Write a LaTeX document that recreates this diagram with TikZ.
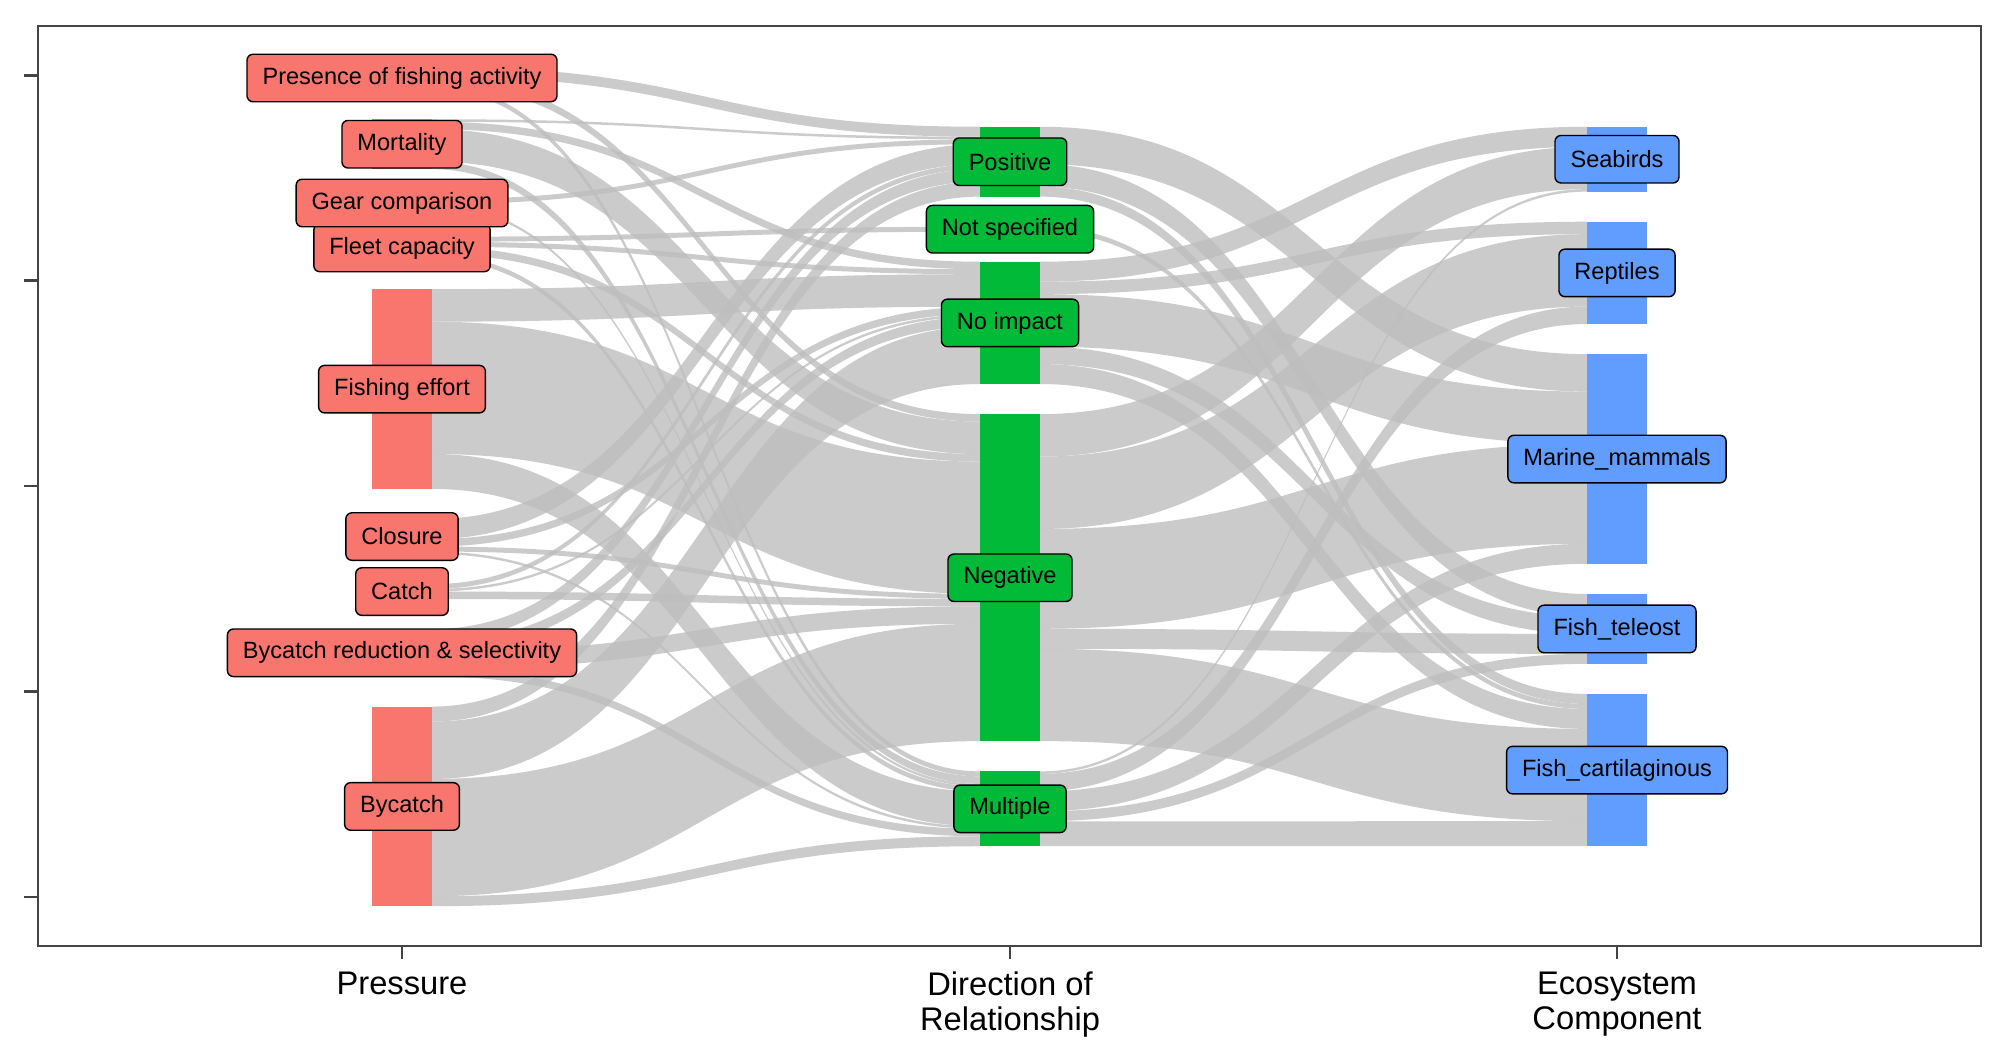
\documentclass[tikz,border=0pt]{standalone}
\usepackage{fontspec}
\setmainfont{Liberation Sans}
\usetikzlibrary{positioning,calc,backgrounds}
\definecolor{pcol}{HTML}{F8766D}
\definecolor{dcol}{HTML}{00BA38}
\definecolor{ecol}{HTML}{619CFF}
\definecolor{flowc}{HTML}{BEBEBE}
\definecolor{axisc}{HTML}{444444}
\def\lodeu{2.496}
\def\lodeh{0.02496cm}
\newcommand{\ribbon}[5]{%
  \path ($(#1.north east)+(0,{#2*\lodeu})$) coordinate (r1)
        ($(#1.north east)+(0,{(#2+#5)*\lodeu})$) coordinate (r2)
        ($(#3.north west)+(0,{#4*\lodeu})$) coordinate (r3)
        ($(#3.north west)+(0,{(#4+#5)*\lodeu})$) coordinate (r4)
        ($(r1)!.5!(r3)$) coordinate (rm);
  \fill[flowband] (r1) .. controls (r1 -| rm) and (r3 -| rm) .. (r3)
    -- (r4) .. controls (r4 -| rm) and (r2 -| rm) .. (r2) -- cycle;}
\begin{document}
\begin{tikzpicture}[x=0.01cm,y=-0.01cm,
    flowband/.style={fill=flowc,fill opacity=0.8},
    strat/.style={rectangle,inner sep=0pt,outer sep=0pt,minimum width=0.6cm},
    tag/.style={draw=black,line width=0.4pt,rounded corners=0.6mm,minimum height=0.475cm,
      inner xsep=0.155cm,inner ysep=0pt,font=\fontsize{6.7pt}{8pt}\selectfont}]

      \useasboundingbox (0,0) rectangle (2007,1062);

      \begin{scope}[every node/.style={strat,fill=pcol}]
        \node[minimum height={9*\lodeh},anchor=north] (pres) at (402,66.73) {};
        \node[minimum height={20*\lodeh},below=0.3cm of pres] (mort) {};
        \node[minimum height={3*\lodeh},below=0.3cm of mort] (gear) {};
        \node[minimum height={9*\lodeh},below=0.3cm of gear] (fleet) {};
        \node[minimum height={80*\lodeh},below=0.3cm of fleet] (effort) {};
        \node[minimum height={14*\lodeh},below=0.3cm of effort] (closure) {};
        \node[minimum height={6*\lodeh},below=0.3cm of closure] (catch) {};
        \node[minimum height={19*\lodeh},below=0.3cm of catch] (reduction) {};
        \node[minimum height={80*\lodeh},below=0.3cm of reduction] (bycatch) {};
      \end{scope}

      \begin{scope}[every node/.style={strat,fill=dcol}]
        \node[minimum height={28*\lodeh},anchor=north] (pos) at (1010,126.73) {};
        \node[minimum height={2*\lodeh},below=0.3cm of pos] (ns) {};
        \node[minimum height={49*\lodeh},below=0.3cm of ns] (noimp) {};
        \node[minimum height={131*\lodeh},below=0.3cm of noimp] (neg) {};
        \node[minimum height={30*\lodeh},below=0.3cm of neg] (mult) {};
      \end{scope}

      \begin{scope}[every node/.style={strat,fill=ecol}]
        \node[minimum height={26*\lodeh},anchor=north] (sea) at (1617,126.73) {};
        \node[minimum height={41*\lodeh},below=0.3cm of sea] (rep) {};
        \node[minimum height={84*\lodeh},below=0.3cm of rep] (mar) {};
        \node[minimum height={28*\lodeh},below=0.3cm of mar] (tel) {};
        \node[minimum height={61*\lodeh},below=0.3cm of tel] (cart) {};
      \end{scope}

      \begin{scope}[on background layer]
        \fill[white] (0,0) rectangle (2007,1062);
        \ribbon{pres}{0}{pos}{0}{4}
        \ribbon{pres}{4}{neg}{0}{3}
        \ribbon{pres}{7}{mult}{0}{2}
        \ribbon{mort}{0}{pos}{4}{1}
        \ribbon{mort}{1}{noimp}{0}{3}
        \ribbon{mort}{4}{neg}{3}{13}
        \ribbon{mort}{17}{mult}{2}{3}
        \ribbon{gear}{0}{pos}{5}{2}
        \ribbon{gear}{2}{mult}{5}{1}
        \ribbon{fleet}{0}{ns}{0}{2}
        \ribbon{fleet}{2}{noimp}{3}{2}
        \ribbon{fleet}{4}{neg}{16}{3}
        \ribbon{fleet}{7}{mult}{6}{2}
        \ribbon{effort}{0}{noimp}{5}{13}
        \ribbon{effort}{13}{neg}{19}{53}
        \ribbon{effort}{66}{mult}{8}{14}
        \ribbon{closure}{0}{pos}{7}{8}
        \ribbon{closure}{8}{noimp}{18}{3}
        \ribbon{closure}{11}{neg}{72}{2}
        \ribbon{closure}{13}{mult}{22}{1}
        \ribbon{catch}{0}{pos}{15}{2}
        \ribbon{catch}{2}{noimp}{21}{1}
        \ribbon{catch}{3}{neg}{74}{3}
        \ribbon{reduction}{0}{pos}{17}{5}
        \ribbon{reduction}{5}{noimp}{22}{4}
        \ribbon{reduction}{9}{neg}{77}{7}
        \ribbon{reduction}{16}{mult}{23}{3}
        \ribbon{bycatch}{0}{pos}{22}{6}
        \ribbon{bycatch}{6}{noimp}{26}{23}
        \ribbon{bycatch}{29}{neg}{84}{47}
        \ribbon{bycatch}{76}{mult}{26}{4}
        \ribbon{pos}{0}{mar}{0}{15}
        \ribbon{pos}{15}{tel}{0}{9}
        \ribbon{pos}{24}{cart}{0}{4}
        \ribbon{ns}{0}{cart}{4}{2}
        \ribbon{noimp}{0}{sea}{0}{8}
        \ribbon{noimp}{8}{rep}{0}{5}
        \ribbon{noimp}{13}{mar}{15}{21}
        \ribbon{noimp}{34}{tel}{9}{7}
        \ribbon{noimp}{41}{cart}{6}{8}
        \ribbon{neg}{0}{sea}{8}{17}
        \ribbon{neg}{17}{rep}{5}{29}
        \ribbon{neg}{46}{mar}{36}{40}
        \ribbon{neg}{86}{tel}{16}{8}
        \ribbon{neg}{94}{cart}{14}{37}
        \ribbon{mult}{0}{sea}{25}{1}
        \ribbon{mult}{1}{rep}{34}{7}
        \ribbon{mult}{8}{mar}{76}{8}
        \ribbon{mult}{16}{tel}{24}{4}
        \ribbon{mult}{20}{cart}{51}{10}
      \end{scope}

      \begin{scope}[every node/.style={tag,fill=pcol}]
        \node (presl) at (pres.center) {Presence of fishing activity};
        \node (mortl) at (mort.center) {Mortality};
        \node (fleetl) at (fleet.center) {Fleet capacity};
        \node (gearl) at (gear.center) {Gear comparison};
        \node (effortl) at (effort.center) {Fishing effort};
        \node (closurel) at (closure.center) {Closure};
        \node (catchl) at (catch.center) {Catch};
        \node (reductionl) at (reduction.center) {Bycatch reduction \& selectivity};
        \node (bycatchl) at (bycatch.center) {Bycatch};
      \end{scope}

      \begin{scope}[every node/.style={tag,fill=dcol}]
        \node (posl) at (pos.center) {Positive};
        \node (nsl) at (ns.center) {Not specified};
        \node (noimpl) at (noimp.center) {No impact};
        \node (negl) at (neg.center) {Negative};
        \node (multl) at (mult.center) {Multiple};
      \end{scope}

      \begin{scope}[every node/.style={tag,fill=ecol}]
        \node (seal) at (sea.center) {Seabirds};
        \node (repl) at (rep.center) {Reptiles};
        \node (marl) at (mar.center) {Marine\_mammals};
        \node (tell) at (tel.center) {Fish\_teleost};
        \node (cartl) at (cart.center) {Fish\_cartilaginous};
      \end{scope}

      \draw[axisc,line width=0.65pt] (38,26) rectangle (1981,946);
      \foreach \t in {-2,...,2}
        \draw[axisc,line width=0.75pt] (24,{486.1+205.4*\t}) -- (38,{486.1+205.4*\t});
      \foreach \x in {402,1010,1617}
        \draw[axisc,line width=0.75pt] (\x,946) -- (\x,959);

      \begin{scope}[every node/.style={anchor=north,inner sep=0pt,align=center,
          font=\fontsize{9.3pt}{10.1pt}\selectfont}]
        \node (pressure) at (402,971) {Pressure};
        \node (direction) at (1010,971) {Direction of\\Relationship};
        \node (ecosystem) at (1617,971) {Ecosystem\\Component};
      \end{scope}

    \end{tikzpicture}
\end{document}
